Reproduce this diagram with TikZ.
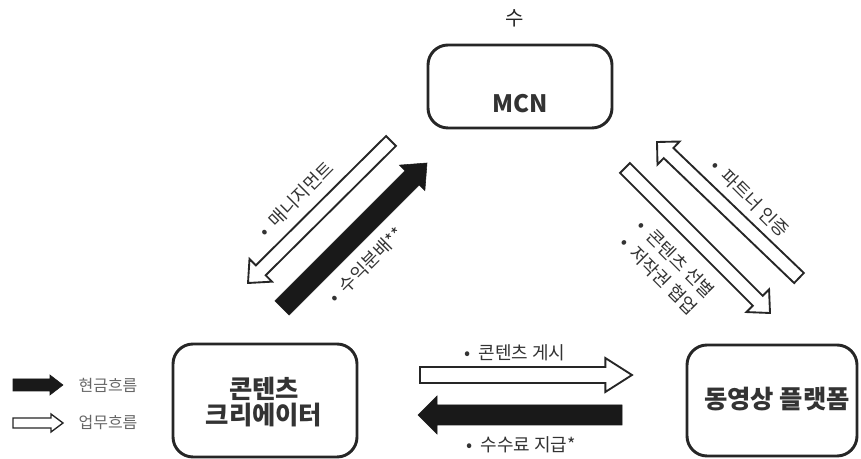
\documentclass[tikz,border=0pt]{standalone}
\usepackage{fontspec}
\setmainfont{Noto Sans CJK KR}
\usetikzlibrary{calc}
% #1 tail, #2 tip, #3 half shaft, #4 half head, #5 head length, #6 style
\newcommand{\fatarr}[6]{%
  \coordinate (fah) at ($(#2)!#5!(#1)$);
  \draw[#6] ($(#1)!#3!90:(#2)$) -- ($(fah)!#3!90:(#2)$) -- ($(fah)!#4!90:(#2)$)
    -- (#2) -- ($(fah)!#4!-90:(#2)$) -- ($(fah)!#3!-90:(#2)$)
    -- ($(#1)!#3!-90:(#2)$) -- cycle;}
\newcommand{\bul}{•\hspace{0.45em}}
\begin{document}
\begin{tikzpicture}[x=0.75pt,y=-0.75pt,
  box/.style={draw=black!85, line width=2.2pt, rounded corners=15pt, fill=white},
  boxtext/.style={font=\bfseries\fontsize{19}{20}\selectfont, text=black!80, align=center},
  whitearr/.style={draw=black!85, line width=1.4pt, fill=white, line join=miter},
  blackarr/.style={draw=black!90, fill=black!90, line width=0.4pt, line join=miter},
  lbl/.style={font=\fontsize{13.5}{18}\selectfont, text=black!80, inner sep=0pt},
  leg/.style={font=\fontsize{12}{14}\selectfont, text=black!60, inner sep=0pt}]
\useasboundingbox (0,0) rectangle (861,459);

% top stray text
\node[font=\fontsize{15}{17}\selectfont, text=black!85] (topq) at (515,18) {수};

% boxes
\node[box, minimum width=138pt, minimum height=62.25pt] (mcn) at (520,86.5) {};
\node[boxtext, font=\bfseries\fontsize{18}{19}\selectfont] (mcnt) at (520,104) {MCN};
\node[box, minimum width=138pt, minimum height=84.75pt] (cc) at (265,400.5) {};
\node[boxtext] (cct) at (264,402) {콘텐츠\\[-1pt]크리에이터};
\node[box, minimum width=127.5pt, minimum height=83.25pt] (vp) at (772,400.5) {};
\node[boxtext] (vpt) at (777,399) {동영상 플랫폼};

% arrow end points
\coordinate (a1s) at (391,141); \coordinate (a1e) at (248,283);
\coordinate (a2s) at (282,308); \coordinate (a2e) at (427,163);
\coordinate (a3s) at (799,278); \coordinate (a3e) at (657,142);
\coordinate (a4s) at (625,168); \coordinate (a4e) at (770,313);
\coordinate (a5s) at (420,375); \coordinate (a5e) at (632,375);
\coordinate (a6s) at (622,415); \coordinate (a6e) at (418,415);
\coordinate (l1s) at (13,385);  \coordinate (l1e) at (63,385);
\coordinate (l2s) at (13,423);  \coordinate (l2e) at (63,423);

\fatarr{a1s}{a1e}{5.25pt}{12pt}{13.5pt}{whitearr}
\fatarr{a2s}{a2e}{7.5pt}{13.5pt}{15.75pt}{blackarr}
\fatarr{a3s}{a3e}{5.25pt}{12pt}{12pt}{whitearr}
\fatarr{a4s}{a4e}{5.25pt}{12pt}{13pt}{whitearr}
\fatarr{a5s}{a5e}{6pt}{12.75pt}{20pt}{whitearr}
\fatarr{a6s}{a6e}{7.5pt}{14.25pt}{14.25pt}{blackarr}
\fatarr{l1s}{l1e}{4.5pt}{7.5pt}{9.75pt}{blackarr}
\fatarr{l2s}{l2e}{3.75pt}{6.75pt}{9pt}{whitearr, line width=1pt}

% labels
\node[lbl, rotate=45] (t1) at (296,199) {\bul 매니지먼트};
\node[lbl, rotate=45] (t2) at (366,265) {\bul 수익분배**};
\node[lbl, rotate=-45] (t3) at (750,198) {\bul 파트너 인증};
\node[lbl, rotate=-45, align=left] (t4) at (667,267) {\bul 콘텐츠 선별\\\bul 저작권 협업};
\node[lbl] (t5) at (515,353) {\bul 콘텐츠 게시};
\node[lbl] (t6) at (521,445) {\bul 수수료 지급*};
\node[leg] (lg1) at (108,385) {현금흐름};
\node[leg] (lg2) at (108,423) {업무흐름};
\end{tikzpicture}
\end{document}
